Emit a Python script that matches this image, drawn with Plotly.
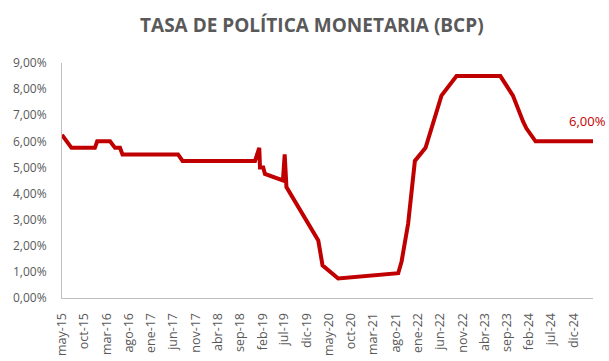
import plotly.graph_objects as go

# Data (date, policy rate %)
dates = ["2015-05-01", "2015-07-05", "2015-12-12", "2015-12-28", "2016-03-25",
         "2016-04-28", "2016-06-01", "2016-06-18", "2017-07-03", "2017-08-03",
         "2018-12-12", "2019-01-10", "2019-01-15", "2019-02-06", "2019-02-18",
         "2019-06-21", "2019-07-03", "2019-07-15", "2020-02-18", "2020-03-18",
         "2020-07-03", "2021-08-18", "2021-09-10", "2021-10-25", "2021-12-10",
         "2022-02-21", "2022-06-10", "2022-09-21", "2023-07-18", "2023-10-12",
         "2023-12-21", "2024-01-12", "2024-03-15", "2025-04-12"]
rates = [6.25, 5.75, 5.75, 6.00, 6.00,
         5.75, 5.75, 5.50, 5.50, 5.25,
         5.25, 5.75, 5.00, 5.00, 4.75,
         4.50, 5.50, 4.25, 2.20, 1.25,
         0.75, 0.95, 1.40, 2.85, 5.25,
         5.75, 7.75, 8.50, 8.50, 7.75,
         6.75, 6.50, 6.00, 6.00]

tick_dates = ["2015-05-01", "2015-10-01", "2016-03-01", "2016-08-01", "2017-01-01",
              "2017-06-01", "2017-11-01", "2018-04-01", "2018-09-01", "2019-02-01",
              "2019-07-01", "2019-12-01", "2020-05-01", "2020-10-01", "2021-03-01",
              "2021-08-01", "2022-01-01", "2022-06-01", "2022-11-01", "2023-04-01",
              "2023-09-01", "2024-02-01", "2024-07-01", "2024-12-01"]
tick_labels = ["may-15", "oct-15", "mar-16", "ago-16", "ene-17", "jun-17", "nov-17",
               "abr-18", "sep-18", "feb-19", "jul-19", "dic-19", "may-20", "oct-20",
               "mar-21", "ago-21", "ene-22", "jun-22", "nov-22", "abr-23", "sep-23",
               "feb-24", "jul-24", "dic-24"]

y_ticks = [0, 1, 2, 3, 4, 5, 6, 7, 8, 9]
y_labels = ["0,00%", "1,00%", "2,00%", "3,00%", "4,00%",
            "5,00%", "6,00%", "7,00%", "8,00%", "9,00%"]

red = "#C00000"
gray = "#595959"

fig = go.Figure()
fig.add_trace(go.Scatter(
    x=dates, y=rates, mode="lines",
    line=dict(color=red, width=4),
    hoverinfo="skip", showlegend=False,
))

fig.add_annotation(
    x=dates[-1], y=rates[-1], text="6,00%", showarrow=False,
    xanchor="center", yanchor="bottom", xshift=-6, yshift=9,
    font=dict(family="Open Sans", size=13, color=red),
)

fig.update_layout(
    width=609, height=361,
    margin=dict(l=62, r=16, t=63, b=63),
    paper_bgcolor="white", plot_bgcolor="white",
    title=dict(
        text="<b>TASA DE POLÍTICA MONETARIA (BCP)</b>",
        x=0.512, xanchor="center", y=0.93, yanchor="middle",
        font=dict(family="Open Sans", size=19, color=gray),
    ),
    font=dict(family="Open Sans", size=13, color=gray),
)

fig.update_xaxes(
    type="date", range=["2015-05-01", "2025-04-12"],
    tickvals=tick_dates, ticktext=tick_labels, tickangle=-90,
    showgrid=False, zeroline=False, automargin=False,
    showline=True, linecolor="#BFBFBF", linewidth=1,
    ticks="", ticklabelstandoff=9,
    tickfont=dict(family="Open Sans", size=12.5, color=gray),
)
fig.update_yaxes(
    range=[0, 9], tickvals=y_ticks, ticktext=y_labels,
    showgrid=False, zeroline=False, automargin=False,
    showline=True, linecolor="#BFBFBF", linewidth=1,
    ticks="", ticklabelstandoff=12,
    tickfont=dict(family="Open Sans", size=12, color=gray),
)

fig.write_html("out.html")
